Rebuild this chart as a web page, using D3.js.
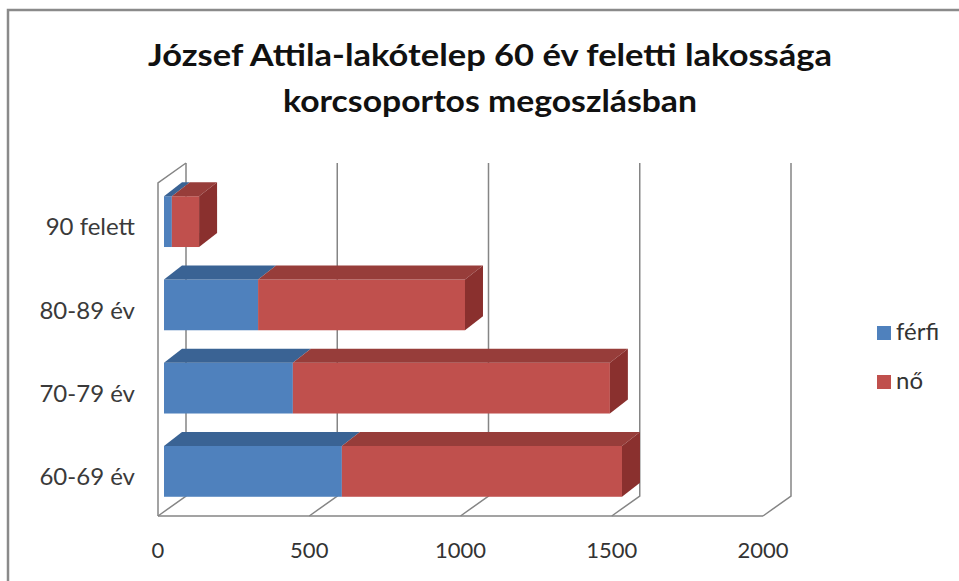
<!DOCTYPE html>
<html>
<head>
<meta charset="utf-8">
<script src="https://cdn.jsdelivr.net/npm/d3@7"></script>
<style>
  body { margin: 0; background: #fff; }
  svg { display: block; }
  text { font-family: Lato, "Open Sans", sans-serif; }
</style>
</head>
<body>
<div id="chart"></div>
<script>
// data
const categories = ['90 felett', '80-89 év', '70-79 év', '60-69 év'];
const ferfi = [26, 311, 426, 588];
const no = [90, 684, 1048, 926];
const seriesNames = ['férfi', 'nő'];
const ticks = [0, 500, 1000, 1500, 2000];
const titleLines = ['József Attila-lakótelep 60 év feletti lakossága', 'korcsoportos megoszlásban'];

const width = 959, height = 581;
const colors = {
  front: ['#4f81bd', '#c0504d'],
  top: ['#3a6394', '#973d3a'],
  side: ['#355a88', '#8a302e']
};

// front plane of the floor, and depth of walls / bars (oblique projection)
const wall = { dx: 28, dy: -20 };
const barOff = { dx: 6, dy: -3 };
const barDepth = { dx: 18, dy: -14 };

const svg = d3.select('#chart')
  .append('svg')
  .attr('width', width)
  .attr('height', height);

svg.append('rect').attr('width', width).attr('height', height).attr('fill', '#fff');

// outer frame (only top and left are in view)
svg.append('path')
  .attr('d', 'M8,' + (height + 5) + 'V10H' + (width + 5))
  .attr('fill', 'none')
  .attr('stroke', '#8a8a8a')
  .attr('stroke-width', 2.5);

// title (stretched to the width of the original Calibri lines)
const titleWidths = [684, 414];
svg.selectAll('.title')
  .data(titleLines)
  .enter()
  .append('text')
  .attr('class', 'title')
  .attr('x', 490)
  .attr('y', (d, i) => 66 + i * 46)
  .attr('text-anchor', 'middle')
  .attr('font-size', 31)
  .attr('font-weight', 'bold')
  .attr('fill', '#111')
  .attr('textLength', (d, i) => titleWidths[i])
  .attr('lengthAdjust', 'spacingAndGlyphs')
  .text(d => d);

const x = d3.scaleLinear().domain([0, 2000]).range([158, 763]);
const y = d3.scaleBand()
  .domain(categories)
  .range([183, 516])
  .paddingInner(0.39)
  .paddingOuter(0.195);

const floorY = 516;
const wallTop = 183;
const g = svg.append('g');
const gridColor = '#858585';

// left side wall
g.append('path')
  .attr('d', `M${x(0)},${floorY}V${wallTop}L${x(0) + wall.dx},${wallTop + wall.dy}`)
  .attr('fill', 'none').attr('stroke', gridColor).attr('stroke-width', 1.5);

// gridlines: floor diagonal + back wall vertical
g.selectAll('.grid')
  .data(ticks)
  .enter()
  .append('path')
  .attr('class', 'grid')
  .attr('d', d => `M${x(d)},${floorY}L${x(d) + wall.dx},${floorY + wall.dy}V${wallTop + wall.dy}`)
  .attr('fill', 'none').attr('stroke', gridColor).attr('stroke-width', 1.5);

// floor front edge
g.append('line')
  .attr('x1', x(0)).attr('x2', x(2000))
  .attr('y1', floorY).attr('y2', floorY)
  .attr('stroke', gridColor).attr('stroke-width', 1.5);

// tick labels
svg.selectAll('.tick')
  .data(ticks)
  .enter()
  .append('text')
  .attr('x', d => x(d))
  .attr('y', 558)
  .attr('text-anchor', 'middle')
  .attr('font-size', 22)
  .attr('fill', '#333')
  .text(d => d);

// category labels
svg.selectAll('.cat')
  .data(categories)
  .enter()
  .append('text')
  .attr('x', 135)
  .attr('y', d => y(d) + y.bandwidth() / 2)
  .attr('dy', '0.45em')
  .attr('text-anchor', 'end')
  .attr('font-size', 24)
  .attr('fill', '#3a3a3a')
  .text(d => d);

// stacked 3D bars
const rows = categories.map((c, i) => ({ cat: c, vals: [ferfi[i], no[i]] }));
rows.forEach(r => {
  let start = 0;
  const y0 = y(r.cat) + barOff.dy;
  const y1 = y0 + y.bandwidth();
  r.vals.forEach((v, s) => {
    const xa = x(start) + barOff.dx;
    const xb = x(start + v) + barOff.dx;
    const bd = barDepth;
    g.append('rect')
      .attr('x', xa).attr('y', y0)
      .attr('width', xb - xa).attr('height', y1 - y0)
      .attr('fill', colors.front[s]);
    g.append('path')
      .attr('d', `M${xa},${y0}L${xa + bd.dx},${y0 + bd.dy}H${xb + bd.dx}L${xb},${y0}Z`)
      .attr('fill', colors.top[s]);
    if (s === r.vals.length - 1) {
      g.append('path')
        .attr('d', `M${xb},${y0}L${xb + bd.dx},${y0 + bd.dy}V${y1 + bd.dy}L${xb},${y1}Z`)
        .attr('fill', colors.side[s]);
    }
    start += v;
  });
});

// legend
const legend = svg.append('g').attr('transform', 'translate(877,326)');
const items = legend.selectAll('g')
  .data(seriesNames)
  .enter()
  .append('g')
  .attr('transform', (d, i) => `translate(0,${i * 49})`);
items.append('rect')
  .attr('width', 14).attr('height', 14)
  .attr('fill', (d, i) => colors.front[i]);
items.append('text')
  .attr('x', 19).attr('y', 14)
  .attr('font-size', 24)
  .attr('fill', '#333')
  .text(d => d);
</script>
</body>
</html>
